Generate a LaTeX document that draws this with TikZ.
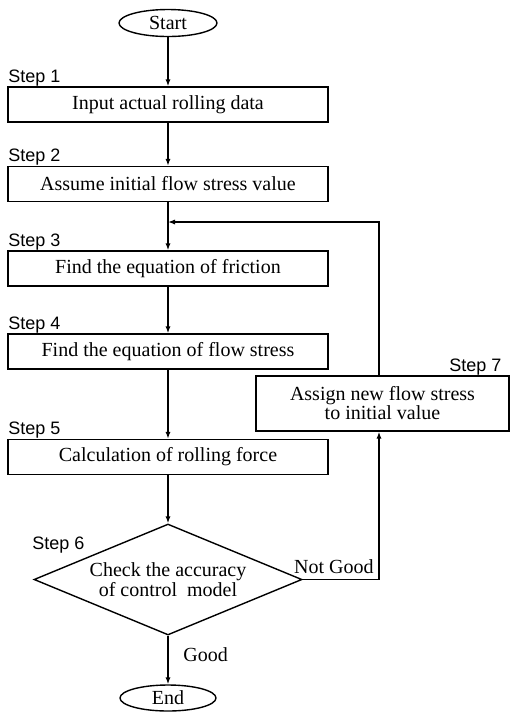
\documentclass[tikz,border=0pt]{standalone}
\usepackage{fontspec}
\setmainfont{Liberation Serif}
\newfontfamily\stepfont{Liberation Sans}
\usetikzlibrary{positioning,arrows.meta,shapes.geometric,calc}
\tikzset{
  procbox/.style={draw,line width=0.7pt,inner sep=0pt,align=center,
    minimum width=160pt,minimum height=17.5pt,font=\fontsize{10}{10.5}\selectfont},
  termnode/.style={draw,ellipse,line width=0.7pt,inner sep=0pt,font=\fontsize{10}{10.5}\selectfont},
  stepno/.style={font=\stepfont\fontsize{9}{10}\selectfont,inner sep=0pt,anchor=base west},
  flow/.style={line width=0.7pt,-{Latex[length=3.5pt,width=2.6pt]}}
}

\begin{document}
\begin{tikzpicture}[x=0.5pt,y=-0.5pt]
\useasboundingbox (0,0) rectangle (510,714);
\node[termnode,minimum width=49pt,minimum height=13.5pt] (start) at (168,23) {Start};
\foreach \n/\y/\txt in {
1/104.5/{Input actual rolling data},
2/184/{Assume initial flow stress value},
3/268.5/{Find the equation of friction},
4/351.5/{Find the equation of flow stress},
5/457/{Calculation of rolling force}}{
  \node[procbox] (s\n) at (168,\y) {\txt};
  \node[stepno] (lbl\n) at (8,\y-22.5) {Step \n};
}
\node[draw,diamond,aspect=2.4,inner sep=0pt,line width=0.7pt,align=center,
  minimum width=134pt,minimum height=55.5pt,font=\fontsize{10}{9}\selectfont]
  (s6) at (168,579.5) {Check the accuracy\\of control\ \ model};
\node[stepno] (lbl6) at (32,549) {Step 6};
\node[procbox,minimum width=126.5pt,minimum height=27.5pt,font=\fontsize{10}{9.5}\selectfont]
  (s7) at (382.5,403.5) {Assign new flow stress\\to initial value};
\node[stepno] (lbl7) at (449,371) {Step 7};
\node[termnode,minimum width=48pt,minimum height=13pt] (end) at (168,698) {End};
\coordinate (join) at (168,222);
\coordinate (loopx) at (379,222);
% main line
\draw[flow] (start) -- (s1);
\foreach \a/\b in {s1/s2,s2/s3,s3/s4,s4/s5,s5/s6}
  \draw[flow] (\a) -- (\b);
\draw[flow] (s6) -- node[pos=0.4,right=4pt,font=\fontsize{10}{10.5}\selectfont] (good) {Good} (end);
% loop back
\draw[flow] (s6.east) -| (loopx |- s7.south);
\draw[flow] (loopx |- s7.north) |- (join);
\node[anchor=south east,inner sep=2.5pt,font=\fontsize{10}{10.5}\selectfont] (notgood) at (loopx |- s6.east) {Not Good};
\end{tikzpicture}
\end{document}
